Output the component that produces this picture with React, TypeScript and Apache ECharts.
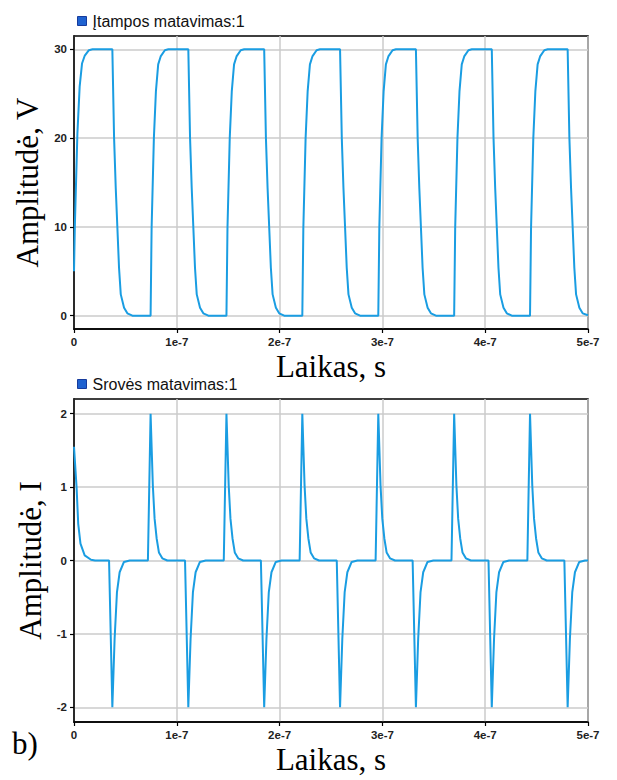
import React, { useEffect, useRef } from "react";
import * as echarts from "echarts";

// time in nanoseconds (axis labels show seconds)
const VOLT_T = [
  0, 0.8, 3.3, 5.5, 7.8, 10.5, 14.5, 18,
  37.3, 39.0, 40.6, 42.2, 43.8, 45.5, 48.7, 51.9, 56.8,
  74.5, 75.5, 77.7, 79.7, 81.9, 84.3, 88.4, 91.7,
  111.2, 112.9, 114.5, 116.1, 117.7, 119.4, 122.6, 125.8, 130.7,
  148.3, 149.3, 151.5, 153.5, 155.7, 158.1, 162.2, 165.5,
  185.0, 186.7, 188.3, 189.9, 191.5, 193.2, 196.4, 199.6, 204.5,
  222.1, 223.1, 225.3, 227.3, 229.5, 231.9, 236.0, 239.3,
  258.8, 260.5, 262.1, 263.7, 265.3, 267.0, 270.2, 273.4, 278.3,
  296.0, 297.0, 299.2, 301.2, 303.4, 305.8, 309.9, 313.2,
  332.6, 334.3, 335.9, 337.5, 339.1, 340.8, 344.0, 347.2, 352.1,
  369.8, 370.8, 373.0, 375.0, 377.2, 379.6, 383.7, 387.0,
  406.4, 408.1, 409.7, 411.3, 412.9, 414.6, 417.8, 421.0, 425.9,
  443.6, 444.6, 446.8, 448.8, 451.0, 453.4, 457.5, 460.8,
  480.2, 481.9, 483.5, 485.1, 486.7, 488.4, 491.6, 494.8, 500,
];
const VOLT_V = [
  5.0, 10, 20.5, 25.8, 28.4, 29.3, 29.9, 30,
  30, 20, 14.4, 9.9, 5.4, 2.4, 0.9, 0.26, 0,
  0, 9.9, 20, 25.3, 28.3, 29.2, 29.9, 30,
  30, 20, 14.4, 9.9, 5.4, 2.4, 0.9, 0.26, 0,
  0, 9.9, 20, 25.3, 28.3, 29.2, 29.9, 30,
  30, 20, 14.4, 9.9, 5.4, 2.4, 0.9, 0.26, 0,
  0, 9.9, 20, 25.3, 28.3, 29.2, 29.9, 30,
  30, 20, 14.4, 9.9, 5.4, 2.4, 0.9, 0.26, 0,
  0, 9.9, 20, 25.3, 28.3, 29.2, 29.9, 30,
  30, 20, 14.4, 9.9, 5.4, 2.4, 0.9, 0.26, 0,
  0, 9.9, 20, 25.3, 28.3, 29.2, 29.9, 30,
  30, 20, 14.4, 9.9, 5.4, 2.4, 0.9, 0.26, 0,
  0, 9.9, 20, 25.3, 28.3, 29.2, 29.9, 30,
  30, 20, 14.4, 9.9, 5.4, 2.4, 0.9, 0.26, 0.05,
];

const CURR_T = [
  0, 2.5, 4.1, 6.3, 10.4, 16.6, 20.5,
  34.1, 37.3, 39.5, 41.8, 44.4, 48.6, 54.2,
  71.9, 74.5, 76.7, 78.4, 80.4, 82.6, 85.9, 90.8,
  108.0, 111.2, 113.4, 115.7, 118.3, 122.5, 128.1,
  145.7, 148.3, 150.5, 152.2, 154.2, 156.4, 159.7, 164.6,
  181.8, 185.0, 187.2, 189.5, 192.1, 196.3, 201.9,
  219.5, 222.1, 224.3, 226.0, 228.0, 230.2, 233.5, 238.4,
  255.6, 258.8, 261.0, 263.3, 265.9, 270.1, 275.7,
  293.4, 296.0, 298.2, 299.9, 301.9, 304.1, 307.4, 312.3,
  329.4, 332.6, 334.8, 337.1, 339.7, 343.9, 349.5,
  367.2, 369.8, 372.0, 373.7, 375.7, 377.9, 381.2, 386.1,
  403.2, 406.4, 408.6, 410.9, 413.5, 417.7, 423.3,
  441.0, 443.6, 445.8, 447.5, 449.5, 451.7, 455.0, 459.9,
  477.0, 480.2, 482.4, 484.7, 487.3, 491.5, 497.1, 500,
];
const CURR_V = [
  1.55, 1.0, 0.5, 0.23, 0.07, 0.01, 0,
  0, -2, -1.07, -0.43, -0.16, -0.02, 0,
  0, 2, 1.02, 0.57, 0.3, 0.11, 0.03, 0,
  0, -2, -1.07, -0.43, -0.16, -0.02, 0,
  0, 2, 1.02, 0.57, 0.3, 0.11, 0.03, 0,
  0, -2, -1.07, -0.43, -0.16, -0.02, 0,
  0, 2, 1.02, 0.57, 0.3, 0.11, 0.03, 0,
  0, -2, -1.07, -0.43, -0.16, -0.02, 0,
  0, 2, 1.02, 0.57, 0.3, 0.11, 0.03, 0,
  0, -2, -1.07, -0.43, -0.16, -0.02, 0,
  0, 2, 1.02, 0.57, 0.3, 0.11, 0.03, 0,
  0, -2, -1.07, -0.43, -0.16, -0.02, 0,
  0, 2, 1.02, 0.57, 0.3, 0.11, 0.03, 0,
  0, -2, -1.07, -0.43, -0.16, -0.02, 0, 0,
];

const X_TICKS = [0, 100, 200, 300, 400, 500];
const X_LABELS = ["0", "1e-7", "2e-7", "3e-7", "4e-7", "5e-7"];
const V_TICKS = [0, 10, 20, 30];
const I_TICKS = [-2, -1, 0, 1, 2];

const SERIES_V = "Įtampos matavimas:1";
const SERIES_I = "Srovės matavimas:1";
const X_NAME = "Laikas, s";
const Y_NAME_V = "Amplitudė, V";
const Y_NAME_I = "Amplitudė, I";

const LINE_COLOR = "#1a9de2";
const GRID_COLOR = "#cbcbcb";

function xAxis(gridIndex: number) {
  return {
    type: "value",
    gridIndex,
    min: 0,
    max: 500,
    interval: 100,
    name: X_NAME,
    nameLocation: "middle",
    nameGap: 22,
    nameTextStyle: { fontFamily: "Liberation Serif", fontSize: 31, color: "#000" },
    axisLine: { show: true, onZero: false, lineStyle: { color: "#000", width: 1.5 } },
    axisTick: { show: true, length: 4, lineStyle: { color: "#000", width: 1.2 } },
    axisLabel: {
      formatter: (v: number) => X_LABELS[X_TICKS.indexOf(Math.round(v))] ?? "",
      fontFamily: "Liberation Sans",
      fontWeight: "bold",
      fontSize: 11.5,
      color: "#222",
      margin: 7,
    },
    splitLine: { show: true, lineStyle: { color: GRID_COLOR, width: 1.5 } },
  };
}

function yAxis(gridIndex: number, min: number, max: number, ticks: number[], name: string) {
  return {
    type: "value",
    gridIndex,
    min,
    max,
    name,
    nameLocation: "middle",
    nameGap: 27,
    nameTextStyle: { fontFamily: "Liberation Serif", fontSize: 31, color: "#000" },
    axisLine: { show: true, onZero: false, lineStyle: { color: "#000", width: 1.5 } },
    axisTick: { show: true, length: 4, customValues: ticks, lineStyle: { color: "#000", width: 1.2 } },
    axisLabel: {
      customValues: ticks,
      fontFamily: "Liberation Sans",
      fontWeight: "bold",
      fontSize: 11.5,
      color: "#222",
      margin: 7,
    },
    splitLine: { show: true, lineStyle: { color: GRID_COLOR, width: 1.5 } },
  };
}

function legend(name: string, top: number) {
  return {
    data: [name],
    left: 72,
    top,
    icon: "rect",
    itemWidth: 9,
    itemHeight: 9,
    itemStyle: { color: "#1f62d0", borderColor: "#173b9c", borderWidth: 1 },
    textStyle: { fontFamily: "Liberation Sans", fontSize: 16, color: "#111", padding: [0, 0, 0, 1] },
    selectedMode: false,
  };
}

export default function App() {
  const ref = useRef<HTMLDivElement>(null);
  useEffect(() => {
    const chart = echarts.init(ref.current!, null, { renderer: "svg" });
    const option = {
      animation: false,
      backgroundColor: "#fff",
      grid: [
        { left: 74, top: 36, width: 514, height: 293, show: true, borderColor: "#000", borderWidth: 1.5, containLabel: false },
        { left: 74, top: 399, width: 514, height: 323, show: true, borderColor: "#000", borderWidth: 1.5, containLabel: false },
      ],
      legend: [legend(SERIES_V, 8), legend(SERIES_I, 371)],
      xAxis: [xAxis(0), xAxis(1)],
      yAxis: [
        yAxis(0, -1.5, 31.5, V_TICKS, Y_NAME_V),
        yAxis(1, -2.2, 2.2, I_TICKS, Y_NAME_I),
      ],
      graphic: [
        {
          type: "text",
          left: 12,
          top: 728,
          style: { text: "b)", fontFamily: "Liberation Serif", fontSize: 31, fill: "#000" },
        },
      ],
      series: [
        {
          name: SERIES_V,
          type: "line",
          xAxisIndex: 0,
          yAxisIndex: 0,
          showSymbol: false,
          symbol: "none",
          color: LINE_COLOR,
          lineStyle: { color: LINE_COLOR, width: 2 },
          data: VOLT_T.map((t, i) => [t, VOLT_V[i]]),
        },
        {
          name: SERIES_I,
          type: "line",
          xAxisIndex: 1,
          yAxisIndex: 1,
          showSymbol: false,
          symbol: "none",
          color: LINE_COLOR,
          lineStyle: { color: LINE_COLOR, width: 2 },
          data: CURR_T.map((t, i) => [t, CURR_V[i]]),
        },
      ],
    };
    chart.setOption(option as any);
    return () => chart.dispose();
  }, []);
  return (
    <div
      ref={ref}
      style={{ position: "absolute", left: 0, top: 0, width: 617, height: 780, background: "#fff" }}
    />
  );
}
